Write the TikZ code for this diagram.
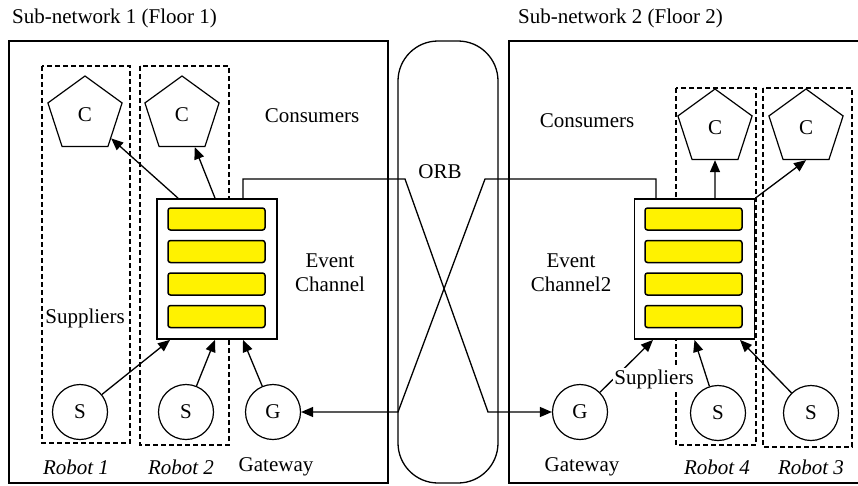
\documentclass[tikz,border=0pt]{standalone}
\usepackage{fontspec}
\setmainfont{Liberation Serif}
\newfontfamily\tnr{Liberation Serif}
\usetikzlibrary{shapes.geometric,arrows.meta,calc}
\begin{document}
\begin{tikzpicture}[x=1pt,y=-1pt, font=\tnr\fontsize{21}{24}\selectfont,
 frame/.style={line width=1.8pt},
 robotbox/.style={line width=1.5pt, dash pattern=on 5pt off 3pt},
 cons/.style={regular polygon, regular polygon sides=5, draw, line width=1.2pt, minimum size=78pt, inner sep=0pt},
 sup/.style={circle, draw, line width=1.2pt, minimum size=55pt, inner sep=0pt},
 chan/.style={draw, line width=1.8pt, fill=white, minimum width=120pt, minimum height=140pt, inner sep=0pt},
 bar/.style={draw, line width=1.5pt, fill=yellow, rounded corners=2.5pt, minimum width=97pt, minimum height=22pt, inner sep=0pt},
 arr/.style={line width=1.3pt, -{Triangle[length=12pt,width=10pt]}},
 lbl/.style={inner sep=0pt, align=center},
 ]
\clip (0,0) rectangle (858,485);
\fill[white] (0,0) rectangle (858,485);

% titles
\node[lbl, anchor=west] (t1) at (12,18) {Sub-network 1 (Floor 1)};
\node[lbl, anchor=west] (t2) at (518,18) {Sub-network 2 (Floor 2)};

% frames
\draw[frame] (9,41) rectangle (388,483);
\draw[frame] (509,41) rectangle (880,483);
\draw[frame, line width=1.3pt, rounded corners=40pt] (398,41) rectangle (498,483);
\node[lbl] (orb) at (440,172) {ORB};

% robot boxes
\draw[robotbox] (42,66) rectangle (130,443);
\draw[robotbox] (140,66) rectangle (229,445);
\draw[robotbox] (676,88) rectangle (756,445);
\draw[robotbox] (763,88) rectangle (852,447);

% consumers
\node[cons] (c1) at (85,115) {C};
\node[cons] (c2) at (182,115) {C};
\node[cons] (c4) at (715,128) {C};
\node[cons] (c3) at (806,128) {C};

% suppliers / gateways
\node[sup] (s1) at (80,412) {S};
\node[sup] (s2) at (186,412) {S};
\node[sup] (g1) at (273,412) {G};
\node[sup] (g2) at (580,412) {G};
\node[sup] (s4) at (718,413) {S};
\node[sup] (s3) at (811,413) {S};

% event channels
\node[chan] (ec1) at (217,269) {};
\node[bar] (b11) at (216.5,219) {};
\node[bar] (b12) at (216.5,251.5) {};
\node[bar] (b13) at (216.5,284) {};
\node[bar] (b14) at (216.5,316.5) {};
\node[chan] (ec2) at (694.5,269) {};
\node[bar] (b21) at (693.5,219) {};
\node[bar] (b22) at (693.5,251.5) {};
\node[bar] (b23) at (693.5,284) {};
\node[bar] (b24) at (693.5,316.5) {};

% labels
\node[lbl] (cl1) at (312,116) {Consumers};
\node[lbl] (cl2) at (587,121) {Consumers};
\node[lbl] (el1) at (330,273) {Event\\Channel};
\node[lbl] (el2) at (571,273) {Event\\Channel2};
\node[lbl] (sl1) at (85,318) {Suppliers};
\node[lbl] (r1) at (76,467) {\itshape Robot 1};
\node[lbl] (r2) at (181,467) {\itshape Robot 2};
\node[lbl] (gw1) at (276,467) {Gateway};
\node[lbl] (gw2) at (582,467) {Gateway};
\node[lbl] (r4) at (717,467) {\itshape Robot 4};
\node[lbl] (r3) at (811,467) {\itshape Robot 3};

% consumer arrows
\draw[arr] ([xshift=-39pt]ec1.north) -- (c1);
\draw[arr] ([xshift=-2pt]ec1.north) -- (c2);
\draw[arr] ([xshift=20.5pt]ec2.north) -- (c4.south);
\draw[arr] (ec2.north east) -- (c3.south);

% supplier arrows
\draw[arr] (s1) -- ([xshift=-47pt]ec1.south);
\draw[arr] (s2) -- ([xshift=-2pt]ec1.south);
\draw[arr] (g1) -- ([xshift=26pt]ec1.south);
\draw[arr] (g2) -- ([xshift=-41.5pt]ec2.south);
\draw[arr] (s4) -- ([xshift=0pt]ec2.south);
\draw[arr] (s3) -- ([xshift=45.5pt]ec2.south);
\node[lbl, fill=white, inner sep=1pt] (sl2) at (654,379) {Suppliers};

% ORB crossing wires
\coordinate (a1) at (243,179);
\coordinate (a2) at (405,179);
\coordinate (a3) at (488,412);
\draw[arr] ([xshift=26pt]ec1.north) -- (a1) -- (a2) -- (a3) -- (g2);
\coordinate (d1) at (656,179);
\coordinate (d2) at (485,179);
\coordinate (d3) at (398,412);
\draw[arr] ([xshift=-38.5pt]ec2.north) -- (d1) -- (d2) -- (d3) -- (g1);
\end{tikzpicture}
\end{document}
